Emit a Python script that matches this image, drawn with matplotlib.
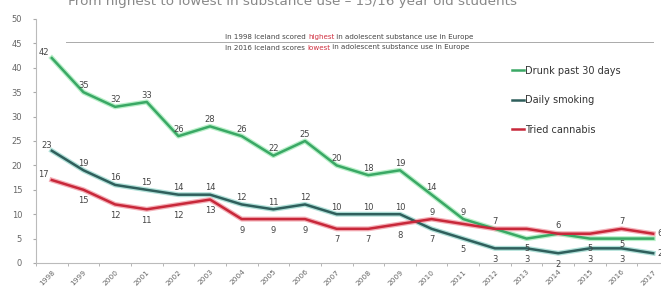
import matplotlib
matplotlib.use("Agg")
import matplotlib.pyplot as plt
import numpy as np

years = [str(y) for y in range(1998, 2018)]
drunk = [42, 35, 32, 33, 26, 28, 26, 22, 25, 20, 18, 19, 14, 9, 7, 5, 6, 5, 5, 5]
smoking = [23, 19, 16, 15, 14, 14, 12, 11, 12, 10, 10, 10, 7, 5, 3, 3, 2, 3, 3, 2]
cannabis = [17, 15, 12, 11, 12, 13, 9, 9, 9, 7, 7, 8, 9, 8, 7, 7, 6, 6, 7, 6]
yticks = [0, 5, 10, 15, 20, 25, 30, 35, 40, 45, 50]

series = [
    ("Drunk past 30 days", drunk, "#3aa865", "#b8f0c8"),
    ("Daily smoking", smoking, "#2f5f5c", "#b0e0d8"),
    ("Tried cannabis", cannabis, "#c8283a", "#f4b0b8"),
]

# label offsets (points) per series; None = hidden
off_d = [(-6, 4), (0, 5), (0, 5), (0, 5), (0, 5), (0, 5), (0, 5), (0, 5), (0, 5), (0, 5),
         (0, 5), (0, 5), (0, 5), (0, 5), (0, 5), (0, -7), None, (0, -7), (0, -4), None]
off_s = [(-4, 4), (0, 5), (0, 5), (0, 5), (0, 5), (0, 5), (0, 5), (0, 5), (0, 5), (0, 5),
         (0, 5), (0, 5), (0, -8), (0, -8), (0, -8), (0, -8), (0, -8), (0, -8), (0, -8), (5, 0)]
off_c = [(-6, 4), (0, -8), (0, -8), (0, -8), (0, -8), (0, -8), (0, -8), (0, -8), (0, -8), (0, -8),
         (0, -8), (0, -8), (0, 5), None, None, None, (0, 6), None, (0, 5), (5, 0)]
offsets = [off_d, off_s, off_c]

fig = plt.figure(figsize=(6.61, 2.89), dpi=100)
ax = fig.add_axes([36 / 661, 1 - 263 / 289, (669 - 36) / 661, (263 - 19) / 289])
x = np.arange(len(years))

for (name, vals, col, glow), offs in zip(series, offsets):
    ax.plot(x, vals, color=glow, lw=3.6, solid_joinstyle="round", zorder=2)
    ax.plot(x, vals, color=col, lw=1.8, label=name, solid_joinstyle="round", zorder=3)
    for xi, v, o in zip(x, vals, offs):
        if o is None:
            continue
        ax.annotate(str(v), (xi, v), xytext=o, textcoords="offset points",
                    ha="center", va="center", fontsize=6, color="#444444", zorder=4)

ax.set_xlim(-0.5, len(years) - 0.5)
ax.set_ylim(0, 50)
ax.set_yticks(yticks)
ax.set_yticklabels([str(t) for t in yticks], fontsize=6, color="#666666")
ax.set_xticks(x)
ax.set_xticklabels(years, rotation=45, fontsize=5.3, color="#666666", ha="right", rotation_mode="anchor")
ax.set_xticks(np.arange(-0.5, len(years), 1), minor=True)
ax.tick_params(axis="x", which="major", length=0, pad=4)
ax.tick_params(axis="x", which="minor", length=2, color="#aaaaaa")
ax.tick_params(axis="y", length=2, color="#aaaaaa", pad=8)
for s in ["top", "right"]:
    ax.spines[s].set_visible(False)
ax.spines["left"].set_color("#bbbbbb")
ax.spines["bottom"].set_color("#bbbbbb")

# annotation line and notes
ax.plot([0.45, 19.0], [45.3, 45.3], color="#aaaaaa", lw=0.7, zorder=1)

fig.canvas.draw()
renderer = fig.canvas.get_renderer()

def rich(xp, yp, parts, fs=5.1):
    xcur = xp
    for txt, c in parts:
        t = fig.text(xcur, yp, txt, fontsize=fs, color=c, va="center")
        bb = t.get_window_extent(renderer=renderer)
        xcur += bb.width / fig.bbox.width

rich(225 / 661, 1 - 37 / 289, [("In 1998 Iceland scored ", "#444444"), ("highest", "#d03040"),
                               (" in adolescent substance use in Europe", "#444444")])
rich(225 / 661, 1 - 47.5 / 289, [("In 2016 Iceland scores ", "#444444"), ("lowest", "#d03040"),
                                 (" in adolescent substance use in Europe", "#444444")])

fig.text(292 / 661, 1 - 1 / 289, "From highest to lowest in substance use \u2013 15/16 year old students",
         fontsize=9.7, color="#888888", ha="center", va="center")

leg = ax.legend(loc="upper left", bbox_to_anchor=(503 / 661, 1 - 57 / 289), bbox_transform=fig.transFigure,
                frameon=False, fontsize=7, handlelength=1.3, labelspacing=2.0, handletextpad=0.1)
for t in leg.get_texts():
    t.set_color("#333333")

fig.savefig("out.png", dpi=100)
